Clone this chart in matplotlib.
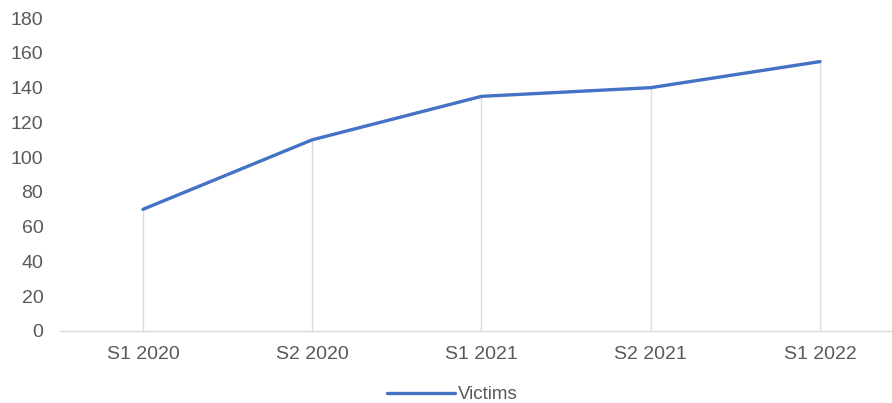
import matplotlib.pyplot as plt

# semestres e numero de vitimas
periodos = ["S1 2020", "S2 2020", "S1 2021", "S2 2021", "S1 2022"]
vitimas = [70, 110, 135, 140, 155]
yticks = [0, 20, 40, 60, 80, 100, 120, 140, 160, 180]

plt.rcParams['font.family'] = ['Liberation Sans', 'DejaVu Sans']

fig = plt.figure(figsize=(8.92, 4.03), dpi=100)
ax = fig.add_axes([0.0673, 0.1787, 0.9317, 0.7763])

x = list(range(len(periodos)))

# linhas verticais do eixo ate cada ponto
ax.vlines(x, 0, vitimas, color="#dcdcdc", linewidth=1.0, zorder=1)
ax.plot(x, vitimas, color="#4472C4", linewidth=2.4, solid_capstyle="round",
        label="Victims", zorder=3)

ax.set_xlim(-0.49, 4.42)
ax.set_ylim(0, 180)
ax.set_xticks(x)
ax.set_xticklabels(periodos)
ax.set_yticks(yticks)

for lado in ["top", "right", "left"]:
    ax.spines[lado].set_visible(False)
ax.spines["bottom"].set_color("#d9d9d9")
ax.spines["bottom"].set_linewidth(1.0)

ax.tick_params(axis="both", length=0, labelsize=14, labelcolor="#595959")
ax.tick_params(axis="y", pad=12)
ax.tick_params(axis="x", pad=11)

fig.legend(loc="lower center", bbox_to_anchor=(0.507, -0.038), frameon=False,
           fontsize=13.5, handlelength=3.6, handletextpad=0.15,
           borderpad=0.3, labelcolor="#595959")

plt.savefig("out.png", dpi=100)
